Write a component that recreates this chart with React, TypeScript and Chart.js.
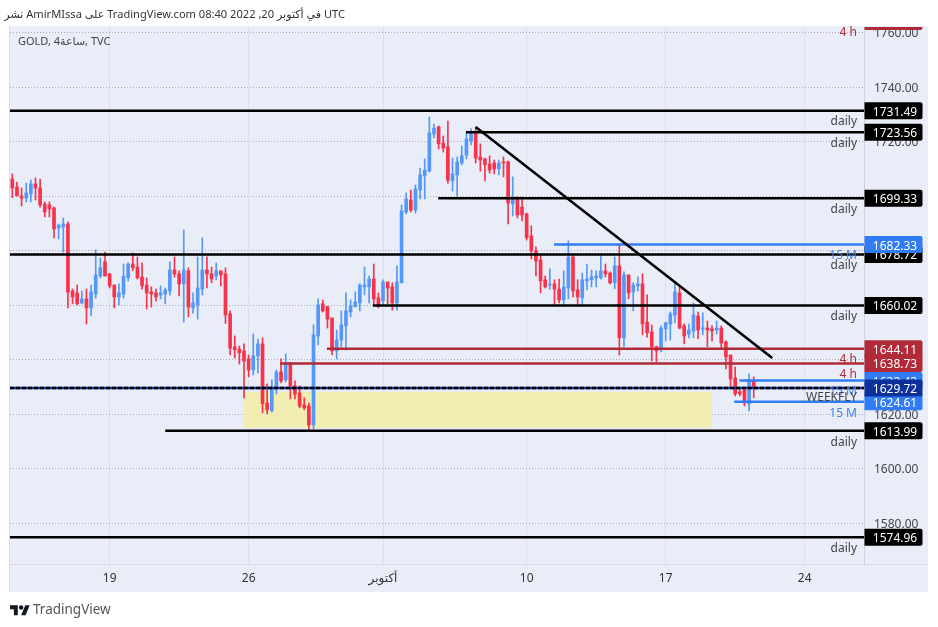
import { useEffect, useRef } from "react";
import { Chart, registerables } from "chart.js";

Chart.register(...registerables);

// candles, one per 4h session, index 0 is the first bar on the left
const opens = [
  1706.4, 1703.5, 1700.2, 1699.4, 1700.9, 1704.6, 1703.1, 1697.2, 1696.9, 1695.8,
  1688.4, 1688.8, 1689.9, 1665.3, 1664.6, 1660.9, 1662.4, 1659.1, 1664.2, 1670.8,
  1676.0, 1671.6, 1667.5, 1663.1, 1664.2, 1670.1, 1675.2, 1674.1, 1670.4, 1667.5,
  1665.0, 1664.6, 1663.8, 1664.2, 1665.3, 1673.0, 1671.6, 1667.9, 1672.7, 1659.1,
  1660.2, 1666.0, 1673.0, 1671.6, 1670.8, 1672.7, 1671.6, 1656.9, 1644.8, 1644.0,
  1643.3, 1640.4, 1636.3, 1641.5, 1645.9, 1624.2, 1621.3, 1629.4, 1635.6, 1632.7,
  1638.9, 1630.5, 1627.9, 1623.5, 1623.1, 1616.1, 1648.8, 1660.6, 1659.5, 1655.4,
  1643.3, 1647.3, 1652.5, 1657.6, 1659.5, 1660.9, 1666.8, 1666.8, 1669.7, 1662.8,
  1661.7, 1668.6, 1666.8, 1660.9, 1668.3, 1694.3, 1698.7, 1695.0, 1702.4, 1707.5,
  1709.3, 1722.9, 1725.5, 1719.6, 1718.2, 1705.7, 1707.9, 1712.3, 1715.2, 1720.4,
  1723.3, 1714.5, 1713.8, 1711.9, 1712.3, 1710.1, 1712.7, 1712.7, 1697.2, 1699.8,
  1696.1, 1693.6, 1685.5, 1680.0, 1676.7, 1669.4, 1667.5, 1667.9, 1666.0, 1662.0,
  1666.4, 1677.8, 1665.7, 1662.8, 1669.0, 1669.4, 1670.1, 1670.1, 1672.7, 1671.9,
  1668.3, 1674.5, 1648.1, 1671.2, 1665.0, 1667.2, 1667.9, 1653.9, 1650.3, 1644.8,
  1643.7, 1651.4, 1653.2, 1656.5, 1664.6, 1652.5, 1649.5, 1650.6, 1656.1, 1651.4,
  1651.7, 1651.4, 1651.0, 1651.7, 1646.6, 1641.8, 1633.4, 1628.3, 1629.0, 1623.9,
  1632.3,
];
const closes = [
  1703.1, 1700.2, 1699.4, 1701.3, 1704.6, 1703.1, 1696.9, 1694.3, 1695.4, 1688.1,
  1689.5, 1689.9, 1664.9, 1663.1, 1660.6, 1662.4, 1659.1, 1665.0, 1671.2, 1673.8,
  1670.8, 1667.2, 1663.1, 1664.6, 1670.8, 1675.2, 1673.8, 1670.1, 1667.2, 1664.6,
  1664.2, 1663.1, 1664.6, 1665.7, 1673.0, 1671.6, 1667.9, 1673.0, 1659.4, 1660.9,
  1666.4, 1673.0, 1671.6, 1669.7, 1672.7, 1671.2, 1656.5, 1644.3, 1643.7, 1642.6,
  1639.6, 1636.3, 1641.5, 1645.9, 1623.9, 1621.7, 1630.1, 1635.6, 1632.3, 1638.9,
  1630.5, 1627.5, 1623.1, 1622.4, 1616.1, 1649.2, 1660.2, 1658.0, 1655.0, 1643.3,
  1647.3, 1652.9, 1658.0, 1659.8, 1661.3, 1667.5, 1667.5, 1669.7, 1662.4, 1659.8,
  1668.6, 1666.4, 1660.9, 1668.6, 1694.7, 1699.1, 1695.0, 1702.8, 1707.9, 1709.7,
  1723.3, 1725.1, 1719.3, 1717.8, 1706.0, 1708.3, 1712.7, 1714.9, 1721.1, 1723.3,
  1714.1, 1713.4, 1711.6, 1709.7, 1710.1, 1712.3, 1712.3, 1697.6, 1699.8, 1693.2,
  1693.2, 1684.8, 1680.0, 1676.3, 1669.0, 1666.8, 1667.9, 1666.0, 1662.0, 1666.8,
  1677.8, 1665.3, 1663.1, 1669.4, 1669.7, 1670.5, 1670.8, 1672.7, 1671.6, 1668.3,
  1674.5, 1648.1, 1671.2, 1664.6, 1667.5, 1667.9, 1653.2, 1649.9, 1644.8, 1643.3,
  1651.7, 1653.6, 1656.9, 1665.0, 1651.7, 1648.8, 1651.0, 1656.5, 1651.0, 1651.7,
  1651.0, 1650.6, 1651.7, 1646.2, 1641.1, 1633.0, 1627.5, 1627.5, 1624.2, 1632.3,
  1629.7,
];
const highs = [
  1708.3, 1705.3, 1703.1, 1704.9, 1706.0, 1706.8, 1706.4, 1698.0, 1698.0, 1696.1,
  1689.9, 1692.1, 1690.7, 1666.0, 1667.5, 1665.3, 1666.0, 1667.5, 1680.4, 1677.4,
  1679.6, 1671.6, 1667.5, 1667.9, 1675.2, 1675.6, 1679.3, 1677.8, 1675.6, 1670.1,
  1666.8, 1666.0, 1667.2, 1666.4, 1676.0, 1677.8, 1672.7, 1687.7, 1673.8, 1664.6,
  1677.8, 1684.8, 1677.8, 1674.1, 1675.6, 1672.7, 1673.8, 1658.0, 1648.8, 1645.1,
  1645.9, 1641.8, 1649.5, 1647.7, 1648.1, 1631.2, 1632.7, 1636.3, 1640.4, 1642.2,
  1638.9, 1632.3, 1630.5, 1626.1, 1624.2, 1652.9, 1662.4, 1662.0, 1659.8, 1655.4,
  1651.0, 1658.0, 1664.6, 1662.0, 1665.0, 1667.9, 1674.1, 1670.8, 1675.2, 1664.6,
  1669.4, 1668.6, 1668.3, 1674.5, 1696.9, 1701.3, 1702.4, 1704.2, 1710.4, 1713.8,
  1729.2, 1726.6, 1725.9, 1722.2, 1727.7, 1714.1, 1714.5, 1718.5, 1723.3, 1724.8,
  1725.5, 1719.3, 1714.1, 1714.9, 1713.4, 1713.4, 1714.5, 1713.0, 1707.2, 1699.8,
  1699.8, 1693.9, 1689.2, 1681.5, 1678.5, 1670.8, 1673.4, 1669.4, 1669.7, 1672.7,
  1683.7, 1678.9, 1669.4, 1671.9, 1675.2, 1673.0, 1672.7, 1678.2, 1675.2, 1672.3,
  1677.8, 1682.2, 1672.3, 1671.2, 1668.3, 1670.5, 1671.6, 1663.9, 1652.8, 1645.1,
  1652.5, 1653.9, 1657.6, 1668.3, 1666.8, 1653.2, 1653.2, 1660.9, 1657.6, 1657.3,
  1654.3, 1652.5, 1654.3, 1652.5, 1647.0, 1641.8, 1637.4, 1629.4, 1629.7, 1634.9,
  1633.8,
];
const lows = [
  1699.6, 1700.2, 1696.5, 1698.0, 1698.0, 1698.7, 1696.1, 1692.5, 1692.5, 1684.8,
  1684.4, 1679.6, 1659.1, 1660.6, 1660.2, 1660.6, 1653.2, 1656.2, 1662.7, 1670.1,
  1670.8, 1666.4, 1659.1, 1660.2, 1662.7, 1669.0, 1672.7, 1669.7, 1666.0, 1658.7,
  1659.4, 1661.6, 1662.4, 1660.6, 1663.8, 1670.4, 1663.5, 1653.9, 1655.8, 1657.2,
  1655.0, 1663.8, 1666.4, 1668.3, 1669.4, 1667.2, 1653.4, 1641.8, 1640.7, 1638.5,
  1626.1, 1633.8, 1634.5, 1635.2, 1620.6, 1620.2, 1620.9, 1627.5, 1631.6, 1631.9,
  1625.7, 1625.7, 1622.4, 1621.7, 1613.9, 1614.7, 1645.5, 1657.6, 1651.7, 1641.8,
  1640.4, 1644.8, 1643.7, 1655.8, 1659.5, 1658.0, 1663.9, 1660.9, 1659.8, 1659.1,
  1659.8, 1660.6, 1658.3, 1658.3, 1668.3, 1693.6, 1694.3, 1693.9, 1699.1, 1699.1,
  1709.0, 1721.5, 1717.4, 1716.3, 1704.9, 1702.0, 1699.8, 1711.6, 1713.8, 1718.9,
  1712.3, 1709.3, 1705.7, 1708.6, 1708.3, 1707.9, 1707.2, 1689.9, 1692.8, 1692.1,
  1691.0, 1684.0, 1677.1, 1670.8, 1664.6, 1666.4, 1666.0, 1660.2, 1660.9, 1660.2,
  1662.4, 1663.1, 1660.6, 1660.2, 1665.7, 1666.8, 1666.8, 1669.7, 1670.5, 1667.9,
  1666.1, 1641.8, 1644.8, 1662.4, 1658.0, 1665.3, 1649.2, 1648.4, 1639.6, 1639.3,
  1642.9, 1647.0, 1647.3, 1653.6, 1651.4, 1645.9, 1648.1, 1648.1, 1647.7, 1649.2,
  1644.8, 1647.0, 1649.5, 1644.0, 1636.7, 1629.7, 1626.8, 1626.8, 1623.1, 1621.3,
  1626.1,
];

// array order is also the order the price tags stack in
const levelPrices = [1764.2, 1731.49, 1723.56, 1699.33, 1678.72, 1682.33, 1660.02, 1632.42, 1638.73, 1644.11, 1624.61, 1613.99, 1574.96];
const levelStarts = [150, -0.5, 97.9, 91.9, -0.5, 116.9, 77.8, 156.9, 57.8, 67.9, 155.8, 33, -0.5];
const levelNames = ["4 h", "daily", "daily", "daily", "daily", "15 M", "daily", "15 M", "4 h", "4 h", "15 M", "daily", "daily"];

const lastPrice = 1629.72;
const lastName = "WEEKFLY";

const trendX = [100, 164];
const trendY = [1725.5, 1640.7];

const zoneX = [49.9, 151];
const zoneY = [1615.1, 1628.3];

const priceTicks = [1580, 1600, 1620, 1640, 1660, 1680, 1700, 1720, 1740, 1760];
const timeTicks = [21, 51, 80, 111, 141, 171];
const timeLabels = ["19", "26", "أكتوبر", "10", "17", "24"];

const X_MIN = -0.5;
const X_MAX = 183.8;
const Y_MIN = 1565.1;
const Y_MAX = 1762.2;

const UP = "#5598f7";
const DOWN = "#f7324a";
const NAVY = "#0c3199";
const PANEL = "#e9edf8";
const FONT = '"Noto Sans", "DejaVu Sans", sans-serif';
const nameColors: Record<string, string> = {
  daily: "#000000",
  "15 M": "#2f7cf6",
  "4 h": "#b02a37",
};
const labelColors: Record<string, string> = {
  daily: "#444444",
  "15 M": "#3f84f0",
  "4 h": "#b02a37",
};

const levelOverlay = {
  id: "levelOverlay",
  beforeDraw(chart: any) {
    const { ctx, chartArea } = chart;
    ctx.save();
    ctx.fillStyle = PANEL;
    ctx.fillRect(9, 26, 919, 566);
    ctx.strokeStyle = "#d8dbe6";
    ctx.lineWidth = 1;
    ctx.beginPath();
    ctx.moveTo(9.5, 26);
    ctx.lineTo(9.5, 592);
    ctx.moveTo(9, chartArea.bottom + 0.5);
    ctx.lineTo(928, chartArea.bottom + 0.5);
    ctx.stroke();
    ctx.restore();
  },
  beforeDatasetsDraw(chart: any) {
    const { ctx, scales } = chart;
    const x0 = scales.x.getPixelForValue(zoneX[0]);
    const x1 = scales.x.getPixelForValue(zoneX[1]);
    const y0 = scales.y.getPixelForValue(zoneY[1]);
    const y1 = scales.y.getPixelForValue(zoneY[0]);
    ctx.save();
    ctx.fillStyle = "rgba(244,236,160,0.8)";
    ctx.fillRect(x0, y0, x1 - x0, y1 - y0);
    ctx.restore();
  },
  afterDraw(chart: any) {
    const { ctx, scales, chartArea } = chart;
    const y = scales.y;
    ctx.save();
    ctx.font = `12px ${FONT}`;
    ctx.textBaseline = "middle";

    // timeframe notes under each level
    ctx.textAlign = "right";
    levelPrices.forEach((price, i) => {
      ctx.fillStyle = labelColors[levelNames[i]];
      ctx.fillText(levelNames[i], chartArea.right - 7, y.getPixelForValue(price) + 11.3);
    });
    ctx.fillStyle = "#444444";
    ctx.fillText(lastName, chartArea.right - 7, y.getPixelForValue(lastPrice) + 10);

    // price tags on the axis, top one is clipped by the panel
    ctx.beginPath();
    ctx.rect(chartArea.right, 27, 64, 540);
    ctx.clip();
    const tag = (price: number, color: string) => {
      const py = y.getPixelForValue(price);
      ctx.fillStyle = color;
      ctx.beginPath();
      ctx.roundRect(chartArea.right + 0.5, py - 8.5, 58, 17, [0, 2, 2, 0]);
      ctx.fill();
      ctx.fillStyle = "#ffffff";
      ctx.textAlign = "center";
      ctx.fillText(price.toFixed(2), chartArea.right + 31, py + 1.5);
    };
    levelPrices.forEach((price, i) => tag(price, nameColors[levelNames[i]]));
    tag(lastPrice, NAVY);
    ctx.restore();
  },
};

function levelLine(price: number, start: number, color: string, extra: object = {}) {
  return {
    type: "line" as const,
    data: [
      { x: start, y: price },
      { x: X_MAX, y: price },
    ],
    borderColor: color,
    borderWidth: 2.5,
    pointRadius: 0,
    order: 1,
    ...extra,
  };
}

export default function App() {
  const canvasRef = useRef<HTMLCanvasElement | null>(null);

  useEffect(() => {
    if (!canvasRef.current) return;

    const colors = closes.map((c, i) => (c >= opens[i] ? UP : DOWN));

    const chart = new Chart(canvasRef.current, {
      type: "bar",
      plugins: [levelOverlay],
      data: {
        datasets: [
          ...levelPrices.map((p, i) => levelLine(p, levelStarts[i], nameColors[levelNames[i]])),
          levelLine(lastPrice, X_MIN, NAVY, { order: 1 }),
          levelLine(lastPrice, X_MIN, "#000000", { order: 0, borderDash: [4, 2] }),
          {
            type: "line" as const,
            data: trendX.map((x, i) => ({ x, y: trendY[i] })),
            borderColor: "#000000",
            borderWidth: 2.5,
            pointRadius: 0,
            order: 0,
          },
          {
            type: "bar" as const,
            data: opens.map((o, i) => ({ x: i, y: [o, closes[i]] })),
            backgroundColor: colors,
            barThickness: 3,
            grouped: false,
            minBarLength: 1,
            order: 2,
          },
          {
            type: "bar" as const,
            data: highs.map((h, i) => ({ x: i, y: [lows[i], h] })),
            backgroundColor: colors,
            barThickness: 1,
            grouped: false,
            order: 3,
          },
        ] as any,
      },
      options: {
        responsive: false,
        animation: false,
        events: [],
        layout: { padding: { left: 10, right: 10, top: 27, bottom: 35 } },
        plugins: { legend: { display: false }, tooltip: { enabled: false } },
        scales: {
          x: {
            type: "linear",
            min: X_MIN,
            max: X_MAX,
            offset: false,
            grid: { color: "#dde0ec", offset: false, drawTicks: false },
            border: { display: false },
            afterBuildTicks: (axis: any) => {
              axis.ticks = timeTicks.map((value) => ({ value }));
            },
            afterFit: (axis: any) => {
              axis.height = 28;
            },
            ticks: {
              autoSkip: false,
              maxRotation: 0,
              padding: 7,
              color: "#333333",
              font: { family: FONT, size: 12 },
              callback: (_v: any, i: number) => timeLabels[i],
            },
          },
          y: {
            position: "right",
            min: Y_MIN,
            max: Y_MAX,
            grid: { color: "#a8abbc", drawTicks: false },
            border: { color: "#d0d3df", dash: [1, 2] },
            afterBuildTicks: (axis: any) => {
              axis.ticks = priceTicks.map((value) => ({ value }));
            },
            afterFit: (axis: any) => {
              axis.width = 64;
            },
            ticks: {
              padding: 10,
              labelOffset: 1,
              color: "#444444",
              font: { family: FONT, size: 12 },
              callback: (v: any) => Number(v).toFixed(2),
            },
          },
        },
      } as any,
    });

    return () => {
      chart.destroy();
    };
  }, []);

  return (
    <div style={{ position: "absolute", left: 0, top: 0, width: 938, height: 627, background: "#fff", fontFamily: FONT, overflow: "hidden" }}>
      <canvas ref={canvasRef} width={938} height={627} style={{ display: "block" }} />
      <div style={{ position: "absolute", left: 0, top: 6, width: 345, direction: "rtl", whiteSpace: "nowrap", fontSize: 11.1, lineHeight: "16px", color: "#333" }}>
        UTC في أكتوبر 20, 2022 08:40 TradingView.com على AmirMIssa نشر
      </div>
      <div style={{ position: "absolute", left: 18, top: 33, whiteSpace: "nowrap", fontSize: 11, lineHeight: "16px", color: "#444" }}>
        GOLD, 4ساعة, TVC
      </div>
      <svg style={{ position: "absolute", left: 10, top: 603 }} width={20} height={15.6} viewBox="0 0 36 28">
        <path d="M14 22H7V11H0V4h14v18zM28 22h-8l7.5-18h8L28 22z" fill="#131722" />
        <circle cx="20" cy="8" r="4" fill="#131722" />
      </svg>
      <div style={{ position: "absolute", left: 33, top: 600, fontSize: 13.5, lineHeight: "18px", color: "#555" }}>TradingView</div>
    </div>
  );
}
